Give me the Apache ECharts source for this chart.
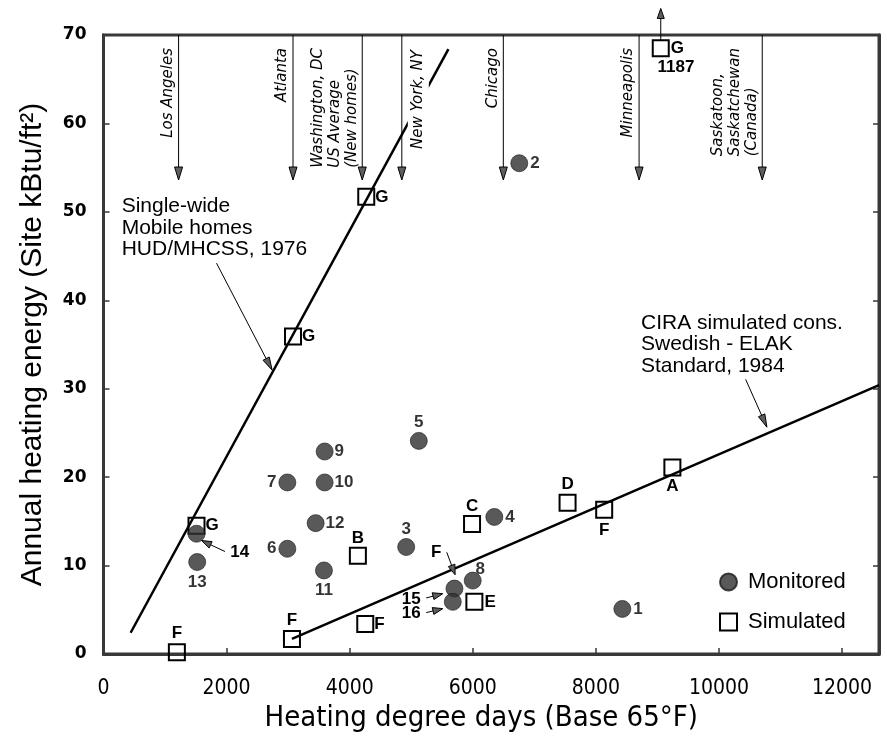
<!DOCTYPE html>
<html><head><meta charset="utf-8">
<script src="https://cdn.jsdelivr.net/npm/echarts@6/dist/echarts.min.js"></script>
<style>html,body{margin:0;padding:0;background:#fff}#c{width:887px;height:738px}</style>
</head><body><div id="c"></div>
<script>
// ---------------- DATA ----------------
// Monitored homes (filled circles)
const monitoredIds    = ['1','2','3','4','5','6','7','8','9','10','11','12','13','14','15','16'];
const monitoredHDD    = [8430, 6755, 4918, 6350, 5123, 2987, 2987, 5999, 3593, 3593, 3582, 3447, 1522, 1511, 5702, 5675];
const monitoredEnergy = [5.1, 55.5, 12.1, 15.5, 24.1, 11.9, 19.4, 8.3, 22.9, 19.4, 9.45, 14.8, 10.4, 13.6, 7.4, 5.9];

// Simulated homes (open squares)
const simulatedIds    = ['F','F','F','B','G','C','E','D','F','A','G','G','G'];
const simulatedHDD    = [1192, 3062, 4253, 4133, 1511, 5988, 6026, 7540, 8135, 9243, 3079, 4269, 9054];
const simulatedEnergy = [0.2, 1.7, 3.4, 11.1, 14.5, 14.7, 5.9, 17.1, 16.3, 21.1, 35.9, 51.7, 68.5];

// Standards lines
const hudHDD = [441, 5604];
const hudEnergy = [2.4, 68.4];
const ciraHDD = [3062, 12600];
const ciraEnergy = [1.7, 30.4];

// Reference cities (heating degree days)
const cityNames = ['Los Angeles', 'Atlanta', 'Washington, DC\nUS Average\n(New homes)', 'New York, NY', 'Chicago', 'Minneapolis', 'Saskatoon,\nSaskatchewan\n(Canada)'];
const cityHDD = [1220, 3079, 4204, 4847, 6496, 8702, 10703];

// Axis ticks
const xTicks = [0, 2000, 4000, 6000, 8000, 10000, 12000];
const yTicks = [0, 10, 20, 30, 40, 50, 60, 70];

// Annotation texts and their anchor points (data space)
const noteTexts  = ['Single-wide\nMobile homes\nHUD/MHCSS, 1976', 'CIRA simulated cons.\nSwedish - ELAK\nStandard, 1984', '14', '15', '16', 'F', '1187'];
const noteHDD    = [295, 8733, 2214, 4999, 4999, 5405, 9302];
const noteEnergy = [48.2, 35.0, 11.52, 6.14, 4.57, 11.52, 66.4];

// Annotation arrows: from (x0,y0) to (x1,y1)
const arrowFromHDD    = [1836, 10433, 1974, 5243, 5243, 5577, 9054];
const arrowFromEnergy = [44.2, 31.06, 11.59, 6.34, 4.68, 11.5, 69.4];
const arrowToHDD      = [2740, 10779, 1593, 5512, 5512, 5713, 9054];
const arrowToEnergy   = [32.1, 25.65, 12.83, 6.82, 5.13, 8.96, 73.0];

// ---------------- STYLE ----------------
const X_MAX = 12600, Y_MAX = 70, CITY_ARROW_END = 53.6;
const INK = '#000', FRAME = '#383838', DOT = '#2f2f2f';
const labelFont = "'Liberation Sans',Arial,sans-serif";
const axisFont = "'Liberation Sans Narrow','DejaVu Sans Condensed','Liberation Sans',sans-serif";
const plainFont = "'Liberation Sans',Arial,sans-serif";
const cityFont = "'DejaVu Sans',sans-serif";

const monitoredLabel = {
  '1':{position:'right',distance:2}, '2':{position:'right',distance:2}, '3':{position:'top',distance:0},
  '4':{position:'right',distance:2}, '5':{position:'top',distance:1}, '6':{position:'left',distance:2},
  '7':{position:'left',distance:2}, '8':{position:'right',distance:-6,offset:[0,-11]},
  '9':{position:'right',distance:1}, '10':{position:'right',distance:1}, '11':{position:'bottom',distance:2},
  '12':{position:'right',distance:1}, '13':{position:'bottom',distance:3},
  '14':{show:false}, '15':{show:false}, '16':{show:false}
};
const simulatedLabel = [
  {position:'top',distance:1.5}, {position:'top',distance:1}, {position:'right',distance:0},
  {position:'top',distance:0}, {position:'right',distance:0}, {position:'top',distance:0},
  {position:'right',distance:1}, {position:'top',distance:0.5}, {position:'bottom',distance:2.5},
  {position:'bottom',distance:1.5}, {position:'right',distance:0}, {position:'right',distance:0},
  {position:'right',distance:1}
];
const citySide = ['left','left','left','right','left','left','left'];
const cityAnchor = ['top','top','bottom','top','top','top','bottom'];

const mctx = document.createElement('canvas').getContext('2d');
function textWidth(t, font){ mctx.font = font; return Math.max.apply(null, t.split('\n').map(s => mctx.measureText(s).width)); }

function arrow(p0, p1, headLen, headW, lw) {
  const dx = p1[0]-p0[0], dy = p1[1]-p0[1], L = Math.hypot(dx, dy);
  const ux = dx/L, uy = dy/L, nx = -uy, ny = ux;
  const bx = p1[0]-ux*headLen, by = p1[1]-uy*headLen;
  return [
    {type:'line', shape:{x1:p0[0], y1:p0[1], x2:bx, y2:by}, style:{stroke:INK, lineWidth:lw}},
    {type:'polygon', shape:{points:[[p1[0],p1[1]],[bx+nx*headW/2, by+ny*headW/2],[bx-nx*headW/2, by-ny*headW/2]]},
     style:{fill:'#5e5e5e', stroke:INK, lineWidth:1}}
  ];
}

const chart = echarts.init(document.getElementById('c'), null, {renderer:'canvas'});
const labelStyle = {show:true, color:INK, fontFamily:labelFont, fontWeight:'bold', fontSize:17};

chart.setOption({
  animation:false,
  backgroundColor:'#fff',
  grid:{left:103.5, right:8, top:35, bottom:82.5, show:true, borderColor:FRAME, borderWidth:3},
  legend:{
    orient:'vertical', left:714, top:566, itemWidth:17, itemHeight:17, itemGap:18,
    textStyle:{fontSize:22, fontFamily:plainFont, color:INK, padding:[0,0,0,6]},
    data:['Monitored','Simulated']
  },
  xAxis:{
    type:'value', min:0, max:X_MAX, interval:2000,
    name:'Heating degree days (Base 65°F)', nameLocation:'middle', nameGap:50,
    nameTextStyle:{fontSize:29, fontFamily:axisFont, color:INK, padding:[0,20,0,0]},
    axisLine:{show:true, lineStyle:{color:FRAME, width:3}},
    axisTick:{show:true, inside:true, length:6, lineStyle:{color:FRAME, width:1.5}},
    splitLine:{show:false},
    axisLabel:{fontSize:21, fontFamily:axisFont, color:INK, margin:24,
      formatter:v => xTicks.indexOf(v) >= 0 ? String(v) : ''}
  },
  yAxis:[{
    type:'value', min:0, max:Y_MAX, interval:10,
    name:'Annual heating energy (Site kBtu/ft²)', nameLocation:'middle', nameGap:56,
    nameTextStyle:{fontSize:30, fontFamily:plainFont, color:INK},
    axisLine:{show:true, lineStyle:{color:FRAME, width:3}},
    axisTick:{show:true, inside:true, length:6, lineStyle:{color:FRAME, width:1.5}},
    splitLine:{show:false},
    axisLabel:{fontSize:17, fontWeight:'bold', fontFamily:"'DejaVu Sans',sans-serif", color:INK, margin:17,
      formatter:v => yTicks.indexOf(v) >= 0 ? String(v) : ''}
  },{
    type:'value', min:0, max:Y_MAX, interval:10, position:'right',
    axisLine:{show:true, lineStyle:{color:FRAME, width:3}},
    axisTick:{show:true, inside:true, length:6, lineStyle:{color:FRAME, width:1.5}},
    axisLabel:{show:false}, splitLine:{show:false}
  }],
  series:[
    {type:'line', name:'HUD', data:hudHDD.map((x,i)=>[x, hudEnergy[i]]), symbol:'none',
     lineStyle:{color:INK, width:2.5}, silent:true, z:2},
    {type:'line', name:'CIRA', data:ciraHDD.map((x,i)=>[x, ciraEnergy[i]]), symbol:'none',
     lineStyle:{color:INK, width:2.5}, silent:true, z:2},
    {type:'scatter', name:'Simulated', symbol:'rect', symbolSize:16,
     itemStyle:{color:'rgba(255,255,255,0)', borderColor:INK, borderWidth:2, opacity:1},
     data:simulatedHDD.map((x,i)=>({value:[x, simulatedEnergy[i]], name:simulatedIds[i],
        label:Object.assign({}, labelStyle, {formatter:simulatedIds[i]}, simulatedLabel[i])})),
     z:3},
    {type:'scatter', name:'Monitored', symbol:'circle', symbolSize:17,
     itemStyle:{color:DOT, borderColor:'#1a1a1a', borderWidth:0.8},
     data:monitoredHDD.map((x,i)=>({value:[x, monitoredEnergy[i]], name:monitoredIds[i],
        label:Object.assign({}, labelStyle, {formatter:monitoredIds[i]}, monitoredLabel[monitoredIds[i]])})),
     z:4},
    {type:'custom', name:'cities', coordinateSystem:'cartesian2d', clip:false, silent:true, z:5,
     data:cityHDD.map(x=>[x, Y_MAX]),
     renderItem:(params, api) => {
       const i = params.dataIndex, x = api.value(0);
       const top = api.coord([x, Y_MAX]);
       const tip = api.coord([x, CITY_ARROW_END]);
       const children = arrow(top, tip, 13, 8, 1);
       const font = 'italic 15px ' + cityFont;
       const txt = cityNames[i];
       let ty, align;
       if (cityAnchor[i] === 'top') { ty = top[1] + 13; align = 'right'; }
       else { ty = top[1] + 13 + textWidth(txt, font); align = 'left'; }
       const right = citySide[i] === 'right';
       children.push({type:'text', x: right ? top[0] + 6 : top[0] - 2, y: ty, rotation: Math.PI/2,
         style:{text:txt, fill:INK, fontSize:15, fontStyle:'italic', fontFamily:cityFont,
           align:align, verticalAlign: right ? 'top' : 'bottom', lineHeight:17,
           backgroundColor: right ? '#fff' : null, padding: right ? [2,2,2,2] : 0}});
       return {type:'group', children:children};
     }},
    {type:'custom', name:'notes', coordinateSystem:'cartesian2d', clip:false, silent:true, z:6,
     data:noteHDD.map((x,i)=>[x, noteEnergy[i]]),
     renderItem:(params, api) => {
       const i = params.dataIndex;
       const p = api.coord([api.value(0), api.value(1)]);
       const big = i < 2;
       const children = arrow(api.coord([arrowFromHDD[i], arrowFromEnergy[i]]),
                              api.coord([arrowToHDD[i], arrowToEnergy[i]]), big ? 13 : 10, 7, 1);
       children.push({type:'text', x:p[0], y:p[1],
         style: big ? {text:noteTexts[i], fill:INK, fontSize:21, fontFamily:plainFont, align:'left', verticalAlign:'middle', lineHeight:21.5}
                    : {text:noteTexts[i], fill:INK, fontSize:17, fontWeight:'bold', fontFamily:labelFont, align:'center', verticalAlign:'middle'}});
       return {type:'group', children:children};
     }}
  ]
});
</script></body></html>
